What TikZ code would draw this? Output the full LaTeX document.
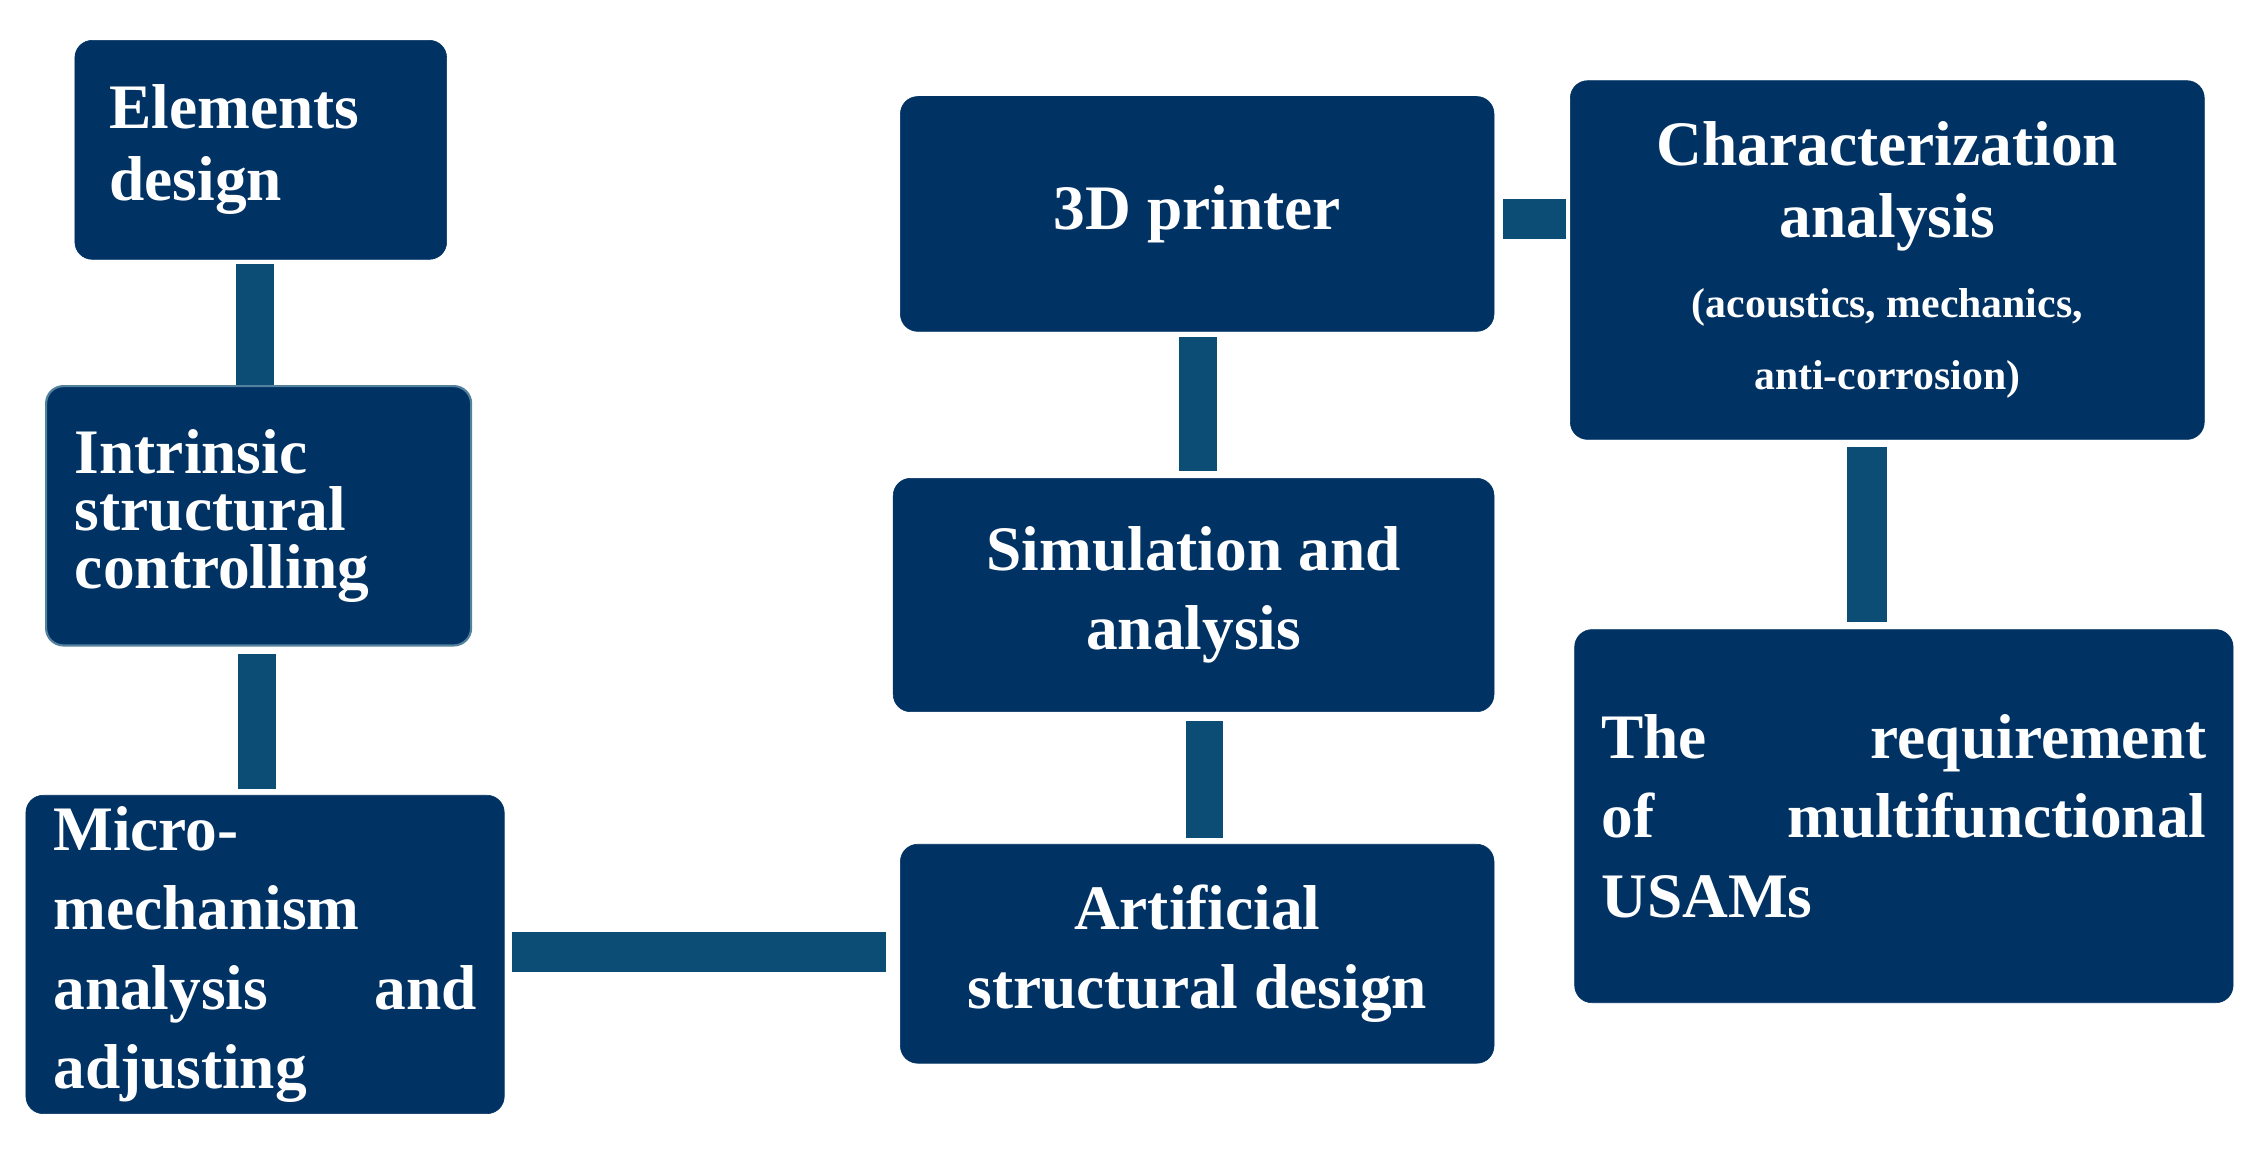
\documentclass[tikz,border=0pt]{standalone}
\usepackage{fontspec}
\setmainfont{Liberation Serif}
\begin{document}
\begin{tikzpicture}[x=1pt,y=-1pt,
  box/.style={fill=boxc,draw=boxc,rounded corners=12pt,text=white,font=\bfseries\fontsize{44}{50}\selectfont,inner sep=0pt},
  conn/.style={draw=connc,line width=26pt,line cap=butt}]
\definecolor{boxc}{HTML}{003263}
\definecolor{connc}{HTML}{0B4D75}
\useasboundingbox (0,0) rectangle (1568,798);
% boxes
\node[box,minimum width=258pt,minimum height=152pt,text width=210pt,align=left] (A) at (181,104) {Elements\\design};
\node[box,draw=connc!70,line width=1.5pt,minimum width=295pt,minimum height=180pt,text width=255pt,align=left,font=\bfseries\fontsize{44}{40}\selectfont] (B) at (179.5,358) {Intrinsic\\structural\\controlling};
\node[box,minimum width=332pt,minimum height=221pt,text width=294pt,align=left,font=\bfseries\fontsize{44}{55}\selectfont] (C) at (184,662.5) {Micro-\\mechanism\\\leavevmode\hbox to 294pt{analysis\hfill and}\\adjusting};
\node[box,minimum width=412pt,minimum height=163pt,align=center] (D) at (831,148.5) {3D printer};
\node[box,minimum width=417pt,minimum height=162pt,align=center,font=\bfseries\fontsize{44}{55}\selectfont] (E) at (828.5,413) {Simulation and\\analysis};
\node[box,minimum width=412pt,minimum height=152pt,align=center,font=\bfseries\fontsize{44}{55}\selectfont] (F) at (831,662) {Artificial\\structural design};
\node[box,minimum width=440pt,minimum height=249pt,align=center,font=\bfseries\fontsize{44}{50}\selectfont] (G) at (1310,180.5) {Characterization\\analysis\\[6pt]{\fontsize{29}{36}\selectfont(acoustics, mechanics,}\\{\fontsize{29}{36}\selectfont anti-corrosion)}};
\node[box,minimum width=457pt,minimum height=259pt,text width=420pt,align=left,font=\bfseries\fontsize{44}{55}\selectfont] (H) at (1321.5,566.5) {\leavevmode\hbox to 420pt{The\hfill requirement}\\\leavevmode\hbox to 420pt{of\hfill multifunctional}\\USAMs};
% connectors
\draw[conn,shorten <=3pt] ([xshift=-4pt]A.south) -- ([xshift=-4pt]A.south |- B.north);
\draw[conn,shorten <=5pt,shorten >=4pt] ([xshift=-1pt]B.south) -- ([xshift=-1pt]B.south |- C.north);
\draw[conn,line width=28pt,shorten <=5pt,shorten >=10pt] (C.east |- 0,661) -- (F.west |- 0,661);
\draw[conn,shorten <=4pt,shorten >=6pt] ([xshift=5pt]F.north) -- ([xshift=5pt]F.north |- E.south);
\draw[conn,shorten <=5pt,shorten >=4pt] ([xshift=3pt]E.north) -- ([xshift=3pt]E.north |- D.south);
\draw[conn,line width=28pt,shorten <=6pt,shorten >=3pt] (D.east |- 0,152) -- (G.west |- 0,152);
\draw[conn,line width=28pt,shorten <=5pt,shorten >=5pt] ([xshift=-14pt]G.south) -- ([xshift=-14pt]G.south |- H.north);
\end{tikzpicture}
\end{document}
